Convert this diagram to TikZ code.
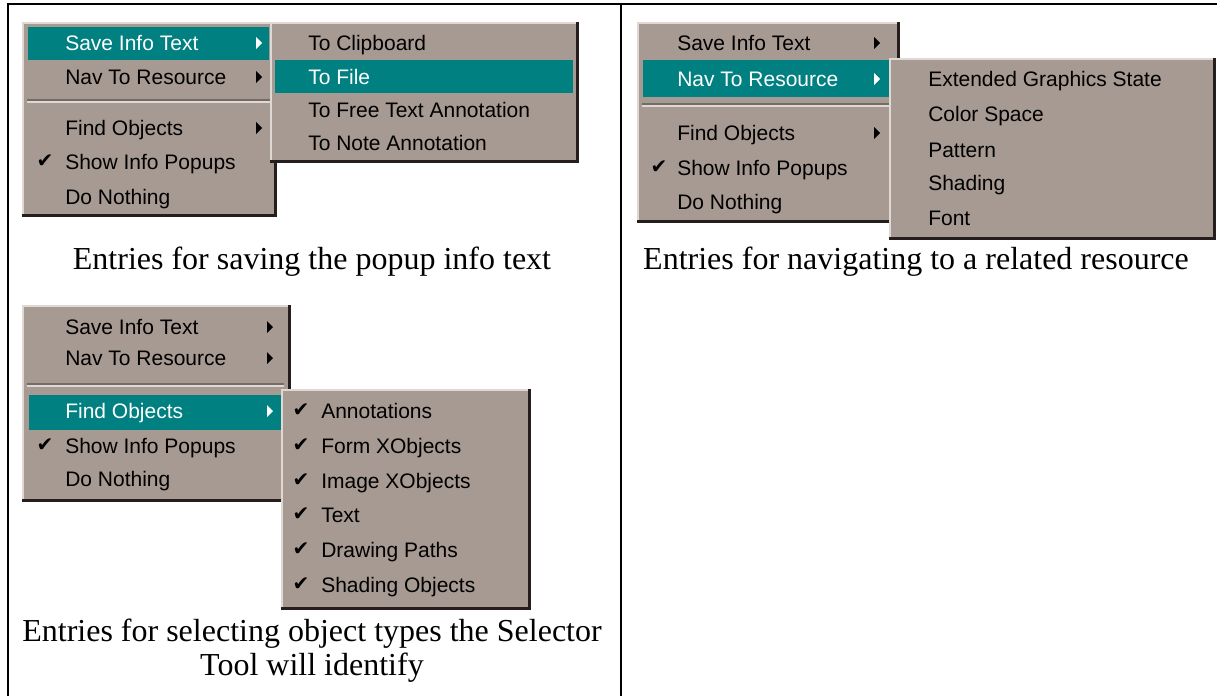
\documentclass[tikz,border=0pt]{standalone}
\usepackage{fontspec}
\setmainfont{Liberation Serif}
\newfontfamily\menufont{Liberation Sans}
\newfontfamily\symfont{DejaVu Sans}
\usepackage{tikz}

\definecolor{menugray}{RGB}{167,154,146}
\definecolor{menuteal}{RGB}{0,128,128}
\definecolor{menulight}{RGB}{224,216,210}
\definecolor{menudark}{RGB}{38,30,28}
\definecolor{menugroove}{RGB}{118,106,100}

% panel with raised 3D edge
\newcommand{\menupanel}[4]{%
  \fill[menugray] (#1,#2) rectangle (#3,#4);
  \draw[menulight, line width=1.5pt] (#1+1,#4) -- (#1+1,#2+1) -- (#3,#2+1);
  \draw[menudark, line width=2.2pt] (#1,#4-1.5) -- (#3-1.5,#4-1.5) -- (#3-1.5,#2);
}
\newcommand{\menusep}[3]{%
  \draw[menugroove, line width=0.9pt] (#1,#3-1) -- (#2,#3-1);
  \draw[menulight, line width=0.9pt] (#1,#3+1) -- (#2,#3+1);
}
\newcommand{\subarrow}[3]{%
  \fill[#3] (#1,#2-6) -- (#1+6,#2) -- (#1,#2+6) -- cycle;
}

\begin{document}
\begin{tikzpicture}[x=0.75pt, y=-0.75pt,
    item/.style={anchor=base west, inner sep=0pt, yshift=-5.6pt,
      font=\menufont\fontsize{15.75pt}{18pt}\selectfont},
    hot/.style={item, text=white},
    tick/.style={anchor=center, inner sep=0pt,
      font=\symfont\fontsize{15pt}{16pt}\selectfont},
    caption/.style={align=center, inner sep=0pt,
      font=\fontsize{24pt}{25.5pt}\selectfont}]
  \useasboundingbox (0,0) rectangle (1217,696);

  % table rules
  \draw[line width=2.2pt] (8,696) -- (8,4) -- (1217,4);
  \draw[line width=2.2pt] (621,4) -- (621,696);

  % ---- saving the info text
  \menupanel{22}{22}{277}{217}
  \fill[menuteal] (28,27) rectangle (269,60);
  \node[hot] (m1save) at (65,43) {Save Info Text};
  \subarrow{256}{43}{white}
  \node[item] (m1nav) at (65,77) {Nav To Resource};
  \subarrow{256}{77}{black}
  \menusep{27}{270}{101}
  \node[item] (m1find) at (65,128) {Find Objects};
  \subarrow{256}{128}{black}
  \node[tick] (m1tick) at (45,161) {✔};
  \node[item] (m1show) at (65,162) {Show Info Popups};
  \node[item] (m1none) at (65,197) {Do Nothing};

  \menupanel{270}{22}{579}{163}
  \fill[menuteal] (275,60) rectangle (573,93);
  \node[item] (s1clip) at (308,43) {To Clipboard};
  \node[hot] (s1file) at (308,77) {To File};
  \node[item] (s1free) at (308,110) {To Free Text Annotation};
  \node[item] (s1note) at (308,143) {To Note Annotation};

  \node[caption] (cap1) at (312,262) {Entries for saving the popup info text};

  % ---- navigating to a resource
  \menupanel{637}{22}{900}{223}
  \fill[menuteal] (643,60) rectangle (890,97);
  \node[item] (m2save) at (677,43) {Save Info Text};
  \subarrow{874}{43}{black}
  \node[hot] (m2nav) at (677,79) {Nav To Resource};
  \subarrow{874}{79}{white}
  \menusep{642}{893}{105}
  \node[item] (m2find) at (677,133) {Find Objects};
  \subarrow{874}{133}{black}
  \node[tick] (m2tick) at (659,167) {✔};
  \node[item] (m2show) at (677,168) {Show Info Popups};
  \node[item] (m2none) at (677,202) {Do Nothing};

  \menupanel{889}{58}{1216}{240}
  \node[item] (s2ext) at (928,79) {Extended Graphics State};
  \node[item] (s2cs) at (928,114) {Color Space};
  \node[item] (s2pat) at (928,150) {Pattern};
  \node[item] (s2sh) at (928,183) {Shading};
  \node[item] (s2font) at (928,218) {Font};

  \node[caption] (cap2) at (916,262) {Entries for navigating to a related resource};

  % ---- object types to find
  \menupanel{22}{305}{291}{502}
  \menusep{27}{284}{385}
  \fill[menuteal] (29,395) rectangle (283,430);
  \node[item] (m3save) at (65,327) {Save Info Text};
  \subarrow{267}{327}{black}
  \node[item] (m3nav) at (65,358) {Nav To Resource};
  \subarrow{267}{358}{black}
  \node[hot] (m3find) at (65,411) {Find Objects};
  \subarrow{267}{411}{white}
  \node[tick] (m3tick) at (45,445) {✔};
  \node[item] (m3show) at (65,446) {Show Info Popups};
  \node[item] (m3none) at (65,479) {Do Nothing};

  \menupanel{281}{389}{531}{610}
  \foreach \ty/\tname/\ttext in {411/annot/Annotations, 446/form/Form XObjects,
      481/image/Image XObjects, 515/text/Text, 550/paths/Drawing Paths,
      585/shade/Shading Objects} {
    \node[tick] (s3\tname tick) at (301,\ty-1) {✔};
    \node[item] (s3\tname) at (321,\ty) {\ttext};
  }

  \node[caption] (cap3) at (312,651) {Entries for selecting object types the Selector\\Tool will identify};
\end{tikzpicture}
\end{document}
